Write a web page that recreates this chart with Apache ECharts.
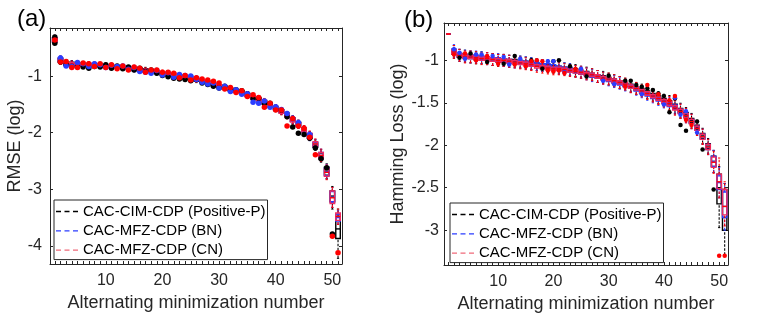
<!DOCTYPE html>
<html><head><meta charset="utf-8">
<script src="https://cdn.jsdelivr.net/npm/echarts@6/dist/echarts.min.js"></script>
<style>html,body{margin:0;padding:0;background:#fff}#c{width:763px;height:318px}</style>
</head><body><div id="c"></div>
<script>
// ---------- data ----------
const seriesNames = ['CAC-CIM-CDP (Positive-P)', 'CAC-MFZ-CDP (BN)', 'CAC-MFZ-CDP (CN)'];
const groups = [1,2,3,4,5,6,7,8,9,10,11,12,13,14,15,16,17,18,19,20,21,22,23,24,25,26,27,28,29,30,31,32,33,34,35,36,37,38,39,40,41,42,43,44,45,46,47,48,49,50,51];
const xTickLabels = [10, 20, 30, 40, 50];
const yTicksA = [-4, -3, -2, -1];
const yTicksB = [-3, -2.5, -2, -1.5, -1];

// Panel (a): RMSE (log) medians, groups 1..49
const medA_K = [-0.36,-0.72,-0.77,-0.78,-0.79,-0.80,-0.81,-0.80,-0.81,-0.82,-0.83,-0.84,-0.85,-0.86,-0.87,-0.88,-0.89,-0.91,-0.93,-0.96,-0.98,-1.00,-1.02,-1.03,-1.05,-1.07,-1.09,-1.12,-1.15,-1.18,-1.20,-1.23,-1.26,-1.28,-1.33,-1.37,-1.41,-1.46,-1.51,-1.56,-1.62,-1.68,-1.77,-1.85,-1.95,-2.06,-2.22,-2.41,-2.68];
const medA_B = [-0.36,-0.71,-0.79,-0.79,-0.80,-0.80,-0.80,-0.80,-0.81,-0.82,-0.83,-0.84,-0.85,-0.86,-0.88,-0.90,-0.91,-0.92,-0.93,-0.95,-0.97,-0.99,-1.00,-1.01,-1.02,-1.04,-1.08,-1.11,-1.14,-1.18,-1.21,-1.24,-1.27,-1.29,-1.34,-1.38,-1.43,-1.47,-1.52,-1.57,-1.62,-1.69,-1.77,-1.85,-1.95,-2.06,-2.21,-2.40,-2.69];
const medA_R = [-0.36,-0.72,-0.77,-0.79,-0.79,-0.80,-0.80,-0.80,-0.81,-0.82,-0.83,-0.84,-0.85,-0.86,-0.87,-0.88,-0.90,-0.91,-0.92,-0.94,-0.96,-0.97,-1.00,-1.02,-1.04,-1.06,-1.08,-1.10,-1.13,-1.17,-1.20,-1.23,-1.26,-1.29,-1.33,-1.37,-1.41,-1.45,-1.51,-1.57,-1.63,-1.70,-1.78,-1.85,-1.95,-2.05,-2.20,-2.40,-2.70];
// half box height and whisker length read per group (a)
const boxA = [0.04,0.03,0.025,0.025,0.025,0.025,0.025,0.02,0.02,0.02,0.02,0.02,0.02,0.02,0.02,0.02,0.02,0.02,0.02,0.02,0.02,0.02,0.02,0.02,0.02,0.02,0.02,0.02,0.02,0.02,0.02,0.02,0.02,0.02,0.025,0.025,0.025,0.025,0.025,0.025,0.025,0.025,0.03,0.03,0.035,0.04,0.04,0.05,0.07];
const whiskA = [0.04,0.04,0.03,0.03,0.03,0.03,0.03,0.025,0.025,0.025,0.025,0.025,0.025,0.025,0.025,0.025,0.025,0.025,0.025,0.025,0.025,0.025,0.025,0.025,0.025,0.025,0.025,0.025,0.025,0.025,0.025,0.025,0.025,0.025,0.03,0.03,0.03,0.03,0.03,0.03,0.03,0.03,0.04,0.04,0.04,0.04,0.05,0.06,0.06];
// groups 50, 51: [low whisker, q1, median, q3, high whisker]
const tailA_K = [[-3.35,-3.22,-3.12,-3.03,-2.95],[-4.22,-3.87,-3.70,-3.48,-3.35]];
const tailA_B = [[-3.32,-3.22,-3.14,-3.04,-2.97],[-3.62,-3.56,-3.50,-3.44,-3.38]];
const tailA_R = [[-3.32,-3.25,-3.15,-3.03,-2.97],[-3.62,-3.55,-3.48,-3.42,-3.35]];
const outA_K = [[1,-0.31],[1,-0.42],[2,-0.75],[3,-0.80],[4,-0.83],[5,-0.84],[6,-0.84],[7,-0.86],[8,-0.83],[9,-0.84],[10,-0.80],[11,-0.86],[12,-0.82],[13,-0.87],[14,-0.84],[15,-0.89],[16,-0.86],[17,-0.92],[18,-0.89],[19,-0.95],[20,-0.99],[21,-1.01],[22,-1.04],[23,-1.05],[24,-1.06],[25,-1.08],[26,-1.05],[27,-1.12],[28,-1.15],[29,-1.18],[30,-1.21],[31,-1.18],[32,-1.26],[33,-1.24],[34,-1.26],[35,-1.31],[36,-1.40],[37,-1.39],[38,-1.49],[39,-1.48],[40,-1.59],[41,-1.60],[42,-1.72],[43,-1.90],[44,-2.01],[45,-2.03],[46,-2.10],[47,-2.27],[48,-2.46],[49,-2.62],[50,-3.79]];
const outA_B = [[2,-0.68],[3,-0.82],[4,-0.83],[5,-0.76],[6,-0.78],[7,-0.83],[8,-0.78],[9,-0.80],[10,-0.85],[11,-0.81],[12,-0.83],[13,-0.82],[14,-0.88],[15,-0.85],[16,-0.92],[17,-0.93],[18,-0.95],[19,-0.90],[20,-0.98],[21,-0.94],[22,-1.02],[23,-0.97],[24,-0.99],[25,-1.00],[26,-1.06],[27,-1.11],[28,-1.14],[29,-1.12],[30,-1.21],[31,-1.18],[32,-1.27],[33,-1.24],[34,-1.32],[35,-1.31],[36,-1.46],[37,-1.48],[38,-1.44],[39,-1.55],[40,-1.54],[41,-1.59],[42,-1.66],[43,-1.75],[44,-1.82],[46,-2.03]];
const outA_R = [[1,-0.36],[2,-0.75],[3,-0.74],[4,-0.85],[5,-0.85],[6,-0.77],[7,-0.78],[8,-0.83],[9,-0.78],[10,-0.85],[11,-0.80],[12,-0.87],[13,-0.82],[14,-0.89],[15,-0.84],[16,-0.86],[17,-0.93],[18,-0.89],[19,-0.89],[20,-0.93],[21,-0.93],[22,-0.95],[23,-1.03],[24,-0.99],[25,-1.07],[26,-1.03],[27,-1.05],[28,-1.07],[29,-1.09],[30,-1.12],[31,-1.23],[32,-1.20],[33,-1.29],[34,-1.26],[35,-1.36],[36,-1.33],[37,-1.38],[38,-1.55],[39,-1.48],[40,-1.60],[41,-1.60],[42,-1.88],[43,-1.75],[44,-1.88],[45,-1.92],[46,-2.08],[47,-2.39],[50,-3.83],[51,-4.12]];

// Panel (b): Hamming Loss (log) medians, groups 1..49
const medB_K = [-0.69,-0.90,-0.94,-0.95,-0.96,-0.97,-0.97,-0.98,-0.99,-1.00,-1.00,-1.01,-1.01,-1.02,-1.03,-1.04,-1.05,-1.06,-1.07,-1.08,-1.09,-1.10,-1.11,-1.12,-1.14,-1.15,-1.17,-1.19,-1.20,-1.22,-1.24,-1.26,-1.28,-1.30,-1.33,-1.35,-1.38,-1.41,-1.44,-1.47,-1.50,-1.54,-1.59,-1.64,-1.71,-1.79,-1.89,-2.01,-2.19];
const medB_B = [-0.69,-0.89,-0.94,-0.95,-0.96,-0.96,-0.97,-0.98,-0.99,-0.99,-1.00,-1.01,-1.02,-1.02,-1.03,-1.04,-1.05,-1.06,-1.06,-1.07,-1.09,-1.10,-1.11,-1.13,-1.14,-1.16,-1.18,-1.19,-1.21,-1.23,-1.25,-1.27,-1.29,-1.31,-1.34,-1.37,-1.40,-1.43,-1.46,-1.49,-1.52,-1.55,-1.60,-1.65,-1.72,-1.80,-1.90,-2.02,-2.19];
const medB_R = [-0.69,-0.90,-0.94,-0.96,-0.96,-0.97,-0.98,-0.98,-0.99,-1.00,-1.00,-1.01,-1.02,-1.03,-1.04,-1.05,-1.07,-1.08,-1.09,-1.10,-1.10,-1.11,-1.12,-1.13,-1.14,-1.16,-1.17,-1.19,-1.21,-1.22,-1.24,-1.26,-1.28,-1.31,-1.33,-1.36,-1.39,-1.42,-1.45,-1.48,-1.51,-1.56,-1.60,-1.65,-1.72,-1.80,-1.90,-2.02,-2.20];
const boxB = [0,0.025,0.02,0.02,0.02,0.02,0.02,0.02,0.02,0.02,0.02,0.02,0.02,0.02,0.02,0.02,0.02,0.02,0.02,0.02,0.02,0.02,0.02,0.02,0.02,0.02,0.02,0.02,0.02,0.02,0.02,0.02,0.02,0.02,0.02,0.02,0.02,0.02,0.02,0.02,0.025,0.025,0.025,0.025,0.025,0.025,0.03,0.03,0.06];
const whiskB = [0,0.05,0.05,0.05,0.05,0.05,0.05,0.05,0.05,0.05,0.05,0.05,0.05,0.05,0.05,0.05,0.05,0.05,0.05,0.05,0.05,0.05,0.05,0.05,0.05,0.05,0.05,0.05,0.05,0.05,0.05,0.05,0.05,0.05,0.05,0.05,0.05,0.05,0.05,0.05,0.06,0.06,0.06,0.06,0.06,0.06,0.06,0.06,0.07];
const tailB_K = [[-2.97,-2.69,-2.50,-2.34,-2.25],[-3.29,-3.00,-2.85,-2.52,-2.45]];
const tailB_B = [[-2.62,-2.52,-2.44,-2.36,-2.26],[-3.00,-2.85,-2.72,-2.55,-2.45]];
const tailB_R = [[-2.62,-2.51,-2.43,-2.34,-2.15],[-2.95,-2.82,-2.72,-2.52,-2.43]];
const outB_K = [[3,-0.97],[5,-0.92],[8,-1.02],[11,-1.04],[13,-0.95],[16,-1.00],[18,-1.10],[20,-1.01],[21,-1.00],[23,-1.07],[26,-1.19],[30,-1.18],[33,-1.24],[34,-1.24],[35,-1.29],[36,-1.31],[37,-1.33],[38,-1.35],[39,-1.39],[40,-1.42],[41,-1.61],[42,-1.45],[43,-1.76],[44,-1.83],[46,-1.72],[47,-2.05],[49,-2.52]];
const outB_B = [[2,-0.87],[3,-0.91],[4,-0.98],[6,-0.93],[7,-0.93],[9,-0.95],[11,-0.96],[12,-1.05],[14,-0.98],[17,-1.01],[19,-1.01],[20,-1.01],[22,-1.14],[25,-1.10],[29,-1.24],[31,-1.28],[36,-1.40],[40,-1.52],[42,-1.44],[43,-1.64],[44,-1.60],[46,-1.85]];
const outB_R = [[2,-0.93],[4,-0.92],[6,-1.00],[8,-0.95],[10,-1.04],[13,-1.05],[15,-1.07],[16,-1.01],[17,-1.00],[18,-1.01],[19,-1.12],[20,-1.13],[21,-1.12],[22,-1.15],[24,-1.10],[33,-1.31],[37,-1.29],[39,-1.40],[41,-1.47],[42,-1.42],[44,-1.70],[45,-1.76],[50,-3.30],[51,-3.30]];

// ---------- build ----------
const colK = '#000000', colB = '#2b3dff', colR = '#ff0000';
const boxColR = '#ee2a62';
function buildBoxes(med, box, whisk, tail) {
  const out = [];
  for (let i = 0; i < med.length; i++) {
    const q1 = med[i] - box[i], q3 = med[i] + box[i];
    out.push([groups[i], q1 - whisk[i], q1, med[i], q3, q3 + whisk[i]]);
  }
  tail.forEach((t, j) => out.push([groups[med.length + j]].concat(t)));
  return out;
}
function renderer(color, boxColor) {
  return function (params, api) {
    const x = api.value(0);
    const lo = api.coord([x, api.value(1)]), q1 = api.coord([x, api.value(2)]);
    const md = api.coord([x, api.value(3)]), q3 = api.coord([x, api.value(4)]);
    const hi = api.coord([x, api.value(5)]);
    const w = api.size([0.8, 0])[0];
    const cx = md[0], hw = w / 2;
    const dash = { stroke: color, lineWidth: 1.1, lineDash: [2.5, 1.5], fill: null };
    const solid = { stroke: color, lineWidth: 1, fill: null };
    return { type: 'group', children: [
      { type: 'line', shape: { x1: cx, y1: lo[1], x2: cx, y2: q1[1] }, style: dash },
      { type: 'line', shape: { x1: cx, y1: q3[1], x2: cx, y2: hi[1] }, style: dash },
      { type: 'line', shape: { x1: cx - hw / 2, y1: lo[1], x2: cx + hw / 2, y2: lo[1] }, style: solid },
      { type: 'line', shape: { x1: cx - hw / 2, y1: hi[1], x2: cx + hw / 2, y2: hi[1] }, style: solid },
      { type: 'rect', shape: { x: cx - hw, y: q3[1], width: w, height: q1[1] - q3[1] }, style: { stroke: boxColor, lineWidth: 1.4, fill: null } },
      { type: 'line', shape: { x1: cx - hw, y1: md[1], x2: cx + hw, y2: md[1] }, style: { stroke: color, lineWidth: 1.4 } }
    ]};
  };
}
function boxSeries(name, data, color, boxColor, ax) {
  return { type: 'custom', name: name, xAxisIndex: ax, yAxisIndex: ax, data: data,
    encode: { x: 0, y: [1, 2, 3, 4, 5] }, itemStyle: { color: color },
    renderItem: renderer(color, boxColor), clip: true, silent: true };
}
function dotSeries(data, color, ax, size) {
  return { type: 'scatter', name: 'out', xAxisIndex: ax, yAxisIndex: ax, data: data,
    symbolSize: size, itemStyle: { color: color, opacity: 1 }, silent: true, z: 3 };
}

const font = 'Liberation Sans, Arial, Helvetica, sans-serif';
const axCol = '#262626';
function xAx(grid, min, max, bottom, name) {
  return { type: 'value', gridIndex: grid, min: min, max: max, position: bottom ? 'bottom' : 'top',
    axisLine: { show: true, onZero: false, lineStyle: { color: axCol, width: 1 } },
    axisTick: { show: true, inside: true, length: 3, customValues: groups, lineStyle: { color: axCol } },
    axisLabel: { show: bottom, customValues: xTickLabels, fontSize: 16, color: axCol, fontFamily: font, margin: 9 },
    splitLine: { show: false },
    name: bottom ? name : '', nameLocation: 'middle', nameGap: 30,
    nameTextStyle: { fontSize: 18, color: axCol, fontFamily: font } };
}
function yAx(grid, min, max, left, ticks, name, gap, margin) {
  return { type: 'value', gridIndex: grid, min: min, max: max, position: left ? 'left' : 'right',
    axisLine: { show: true, onZero: false, lineStyle: { color: axCol, width: 1 } },
    axisTick: { show: true, inside: true, length: 3, customValues: ticks, lineStyle: { color: axCol } },
    axisLabel: { show: left, customValues: ticks, fontSize: 16, color: axCol, fontFamily: font, margin: margin },
    splitLine: { show: false },
    name: left ? name : '', nameLocation: 'middle', nameGap: gap,
    nameTextStyle: { fontSize: 18, color: axCol, fontFamily: font } };
}
const dashIcon = 'path://M0,0h5v1.3h-5z M8.5,0h5v1.3h-5z M17,0h5v1.3h-5z';
function legend(left, top) {
  return { orient: 'vertical', left: left, top: top, padding: [4, 2, 2, 2], itemWidth: 22, itemHeight: 8,
    itemGap: 4.3, borderColor: axCol, borderWidth: 1, backgroundColor: '#fff', icon: dashIcon,
    textStyle: { fontSize: 15, color: '#000', fontFamily: font, lineHeight: 15 },
    data: [ { name: seriesNames[0] }, { name: seriesNames[1] },
      { name: seriesNames[2], itemStyle: { color: '#f06a7a' } } ] };
}

const option = {
  animation: false,
  backgroundColor: '#fff',
  title: [
    { text: '(a)', left: 12, top: 2, textStyle: { fontSize: 24, fontWeight: 'normal', color: '#000', fontFamily: font } },
    { text: '(b)', left: 399, top: 3, textStyle: { fontSize: 24, fontWeight: 'normal', color: '#000', fontFamily: font } }
  ],
  grid: [
    { left: 50, top: 28, width: 292, height: 236 },
    { left: 444, top: 23, width: 284, height: 244 }
  ],
  xAxis: [
    xAx(0, 0.15, 51.7, true, 'Alternating minimization number'),
    xAx(0, 0.15, 51.7, false, ''),
    xAx(1, 0.2, 51.6, true, 'Alternating minimization number'),
    xAx(1, 0.2, 51.6, false, '')
  ],
  yAxis: [
    yAx(0, -4.32, -0.15, true, yTicksA, 'RMSE (log)', 24, 8),
    yAx(0, -4.32, -0.15, false, yTicksA, '', 0, 0),
    yAx(1, -3.41, -0.56, true, yTicksB, 'Hamming Loss (log)', 33, 5),
    yAx(1, -3.41, -0.56, false, yTicksB, '', 0, 0)
  ],
  legend: [legend(54, 200), legend(450, 203)],
  series: [
    boxSeries(seriesNames[0], buildBoxes(medA_K, boxA, whiskA, tailA_K), colK, colK, 0),
    dotSeries(outA_K, colK, 0, 5.5),
    boxSeries(seriesNames[1], buildBoxes(medA_B, boxA, whiskA, tailA_B), colB, colB, 0),
    dotSeries(outA_B, colB, 0, 5.5),
    boxSeries(seriesNames[2], buildBoxes(medA_R, boxA, whiskA, tailA_R), colR, boxColR, 0),
    dotSeries(outA_R, colR, 0, 5.5),
    boxSeries(seriesNames[0], buildBoxes(medB_K, boxB, whiskB, tailB_K), colK, colK, 2),
    dotSeries(outB_K, colK, 2, 4.5),
    boxSeries(seriesNames[1], buildBoxes(medB_B, boxB, whiskB, tailB_B), colB, colB, 2),
    dotSeries(outB_B, colB, 2, 4.5),
    boxSeries(seriesNames[2], buildBoxes(medB_R, boxB, whiskB, tailB_R), colR, boxColR, 2),
    dotSeries(outB_R, colR, 2, 4.5)
  ]
};
echarts.init(document.getElementById('c')).setOption(option);
</script></body></html>
